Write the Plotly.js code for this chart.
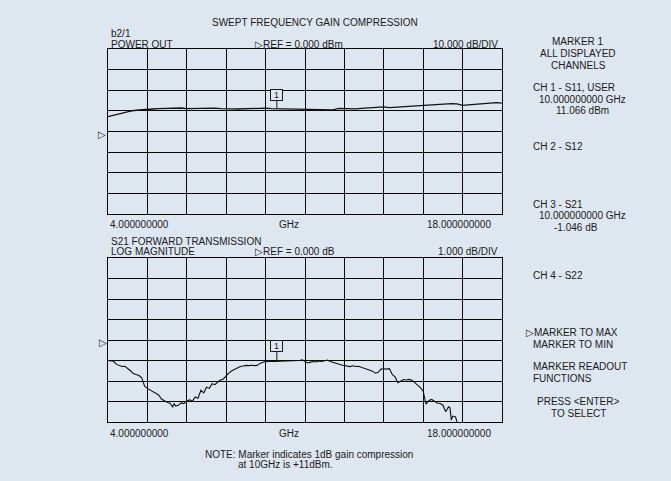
<!DOCTYPE html>
<html>
<head>
<meta charset="utf-8">
<script src="https://cdn.plot.ly/plotly-3.0.1.min.js"></script>
<style>
  html, body { margin: 0; padding: 0; background: #dee6f0; }
  #chart { width: 671px; height: 481px; }
</style>
</head>
<body>
<div id="chart"></div>
<script>
// Channel 1: power out (dBm) vs swept frequency (GHz)
const freqTop = [4.0, 4.2, 4.4, 4.6, 4.8, 5.0, 5.2, 5.4, 5.6, 5.8, 6.0, 6.2, 6.4, 6.6, 6.8, 7.0,
  7.2, 7.4, 7.6, 7.8, 8.0, 8.2, 8.4, 8.6, 8.8, 9.0, 9.2, 9.4, 9.6, 9.8, 10.0, 10.2, 10.4, 10.6,
  10.8, 11.0, 11.2, 11.4, 11.6, 11.8, 12.0, 12.2, 12.4, 12.6, 12.8, 13.0, 13.2, 13.4, 13.6, 13.8,
  14.0, 14.2, 14.4, 14.6, 14.8, 15.0, 15.2, 15.4, 15.6, 15.8, 16.0, 16.2, 16.4, 16.6, 16.8, 17.0,
  17.2, 17.4, 17.6, 17.8, 18.0];
const powerOutDbm = [7.2, 7.9, 8.6, 9.3, 9.9, 10.3, 10.4, 10.5, 10.9, 11.1, 11.2, 11.3, 11.5, 11.4,
  11.1, 11.2, 11.2, 11.3, 11.2, 11.3, 11.1, 11.2, 11.0, 10.9, 11.0, 11.2, 11.0, 11.1, 11.3, 11.1,
  11.066, 10.9, 11.0, 10.9, 10.9, 10.8, 10.8, 10.8, 10.7, 10.6, 10.5, 11.2, 11.1, 10.9, 11.0, 11.2,
  11.4, 11.4, 11.6, 11.9, 11.6, 11.8, 11.7, 12.1, 12.3, 12.4, 12.5, 12.8, 12.9, 13.1, 13.3, 13.5,
  13.4, 12.7, 12.9, 13.1, 13.3, 13.5, 13.7, 14.0, 13.8];

// Channel 3: S21 forward transmission, log magnitude (dB)
const freqBottom = [4.0, 4.1, 4.2, 4.3, 4.4, 4.5, 4.6, 4.7, 4.8, 4.9, 5.0, 5.1, 5.2, 5.3, 5.4, 5.5,
  5.6, 5.7, 5.8, 5.9, 6.0, 6.1, 6.2, 6.3, 6.35, 6.4, 6.5, 6.6, 6.7, 6.8, 6.9, 7.0, 7.1, 7.2, 7.3,
  7.4, 7.5, 7.6, 7.7, 7.8, 7.9, 8.0, 8.1, 8.2, 8.3, 8.4, 8.5, 8.6, 8.7, 8.8, 8.9, 9.0, 9.1, 9.2,
  9.3, 9.4, 9.5, 9.6, 9.7, 9.8, 9.9, 10.0, 10.1, 10.2, 10.3, 10.4, 10.5, 10.6, 10.7, 10.8, 10.9,
  11.0, 11.1, 11.2, 11.3, 11.4, 11.5, 11.6, 11.7, 11.8, 11.9, 12.0, 12.1, 12.2, 12.3, 12.4, 12.5,
  12.6, 12.7, 12.8, 12.9, 13.0, 13.1, 13.2, 13.3, 13.4, 13.5, 13.6, 13.7, 13.8, 13.9, 14.0, 14.1,
  14.2, 14.3, 14.4, 14.5, 14.6, 14.7, 14.8, 14.9, 15.0, 15.1, 15.2, 15.3, 15.4, 15.5, 15.6, 15.7,
  15.8, 15.9, 16.0, 16.1, 16.15, 16.2, 16.25, 16.3, 16.35, 16.4];
const s21Db = [-1.00, -1.01, -1.04, -1.19, -1.26, -1.29, -1.28, -1.38, -1.50, -1.64, -1.68, -1.73,
  -1.85, -2.25, -2.36, -2.45, -2.52, -2.60, -2.68, -2.88, -2.98, -3.04, -3.08, -3.26, -3.10, -3.22,
  -3.18, -3.07, -3.10, -2.97, -2.92, -2.98, -2.78, -2.84, -2.45, -2.58, -2.30, -2.36, -2.13, -2.18,
  -2.05, -1.95, -1.90, -1.74, -1.60, -1.50, -1.43, -1.36, -1.29, -1.27, -1.24, -1.25, -1.23, -1.25,
  -1.24, -1.14, -1.08, -1.04, -1.06, -1.03, -1.05, -1.046, -1.03, -1.02, -1.04, -1.01, -1.00, -1.02,
  -0.99, -1.00, -0.97, -1.05, -1.12, -1.08, -1.05, -1.07, -1.02, -1.05, -1.00, -0.98, -1.05, -1.10,
  -1.12, -1.18, -1.22, -1.24, -1.27, -1.30, -1.26, -1.29, -1.28, -1.33, -1.40, -1.42, -1.48, -1.52,
  -1.62, -1.58, -1.42, -1.40, -1.42, -1.40, -1.68, -1.80, -2.08, -2.02, -1.93, -1.95, -1.92, -1.96,
  -2.10, -2.20, -2.32, -2.50, -3.13, -2.95, -2.90, -3.00, -3.07, -3.10, -3.18, -3.50, -3.26, -3.30,
  -3.91, -3.71, -3.73, -3.75, -4.00];

// Marker 1 readout
const markerFreqGHz = 10.0;
const markerPowerDbm = 11.066;
const markerS21Db = -1.046;

const bg = '#dee6f0';
const ink = '#1a1a1a';
const gridInk = '#080808';
const font = { family: 'Liberation Sans, Arial, Helvetica, sans-serif', size: 10, color: ink };

// Plot area in page pixels
const W = 671, H = 481;
const L = 108, R = 502, T = 49, B = 422;

// Page pixel -> paper coordinates
function px(x) { return (x - L) / (R - L); }
function py(y) { return (B - y) / (B - T); }

function label(text, x, y, xanchor) {
  return { text: text, xref: 'paper', yref: 'paper', x: px(x), y: py(y),
    xanchor: xanchor || 'left', yanchor: 'middle', showarrow: false, font: font };
}

const xAxisBase = {
  range: [4, 18], tick0: 4, dtick: 1.4, showgrid: true, gridcolor: gridInk, gridwidth: 1,
  showline: true, linecolor: gridInk, linewidth: 1.2, mirror: true,
  showticklabels: false, ticks: '', zeroline: false, fixedrange: true
};

const yAxisBase = {
  showgrid: true, gridcolor: gridInk, gridwidth: 1, showline: true, linecolor: gridInk,
  linewidth: 1.2, mirror: true, showticklabels: false, ticks: '', zeroline: false, fixedrange: true
};

const topDomain = [py(214), 1];
const botDomain = [0, py(258)];

const traces = [
  { x: freqTop, y: powerOutDbm, xaxis: 'x', yaxis: 'y', mode: 'lines',
    line: { color: '#111', width: 1.3 }, hoverinfo: 'skip' },
  { x: freqBottom, y: s21Db, xaxis: 'x2', yaxis: 'y2', mode: 'lines',
    line: { color: '#111', width: 1.1 }, hoverinfo: 'skip' }
];

const markerStyle = {
  text: '1', showarrow: true, arrowhead: 0, arrowwidth: 1, arrowcolor: ink,
  ax: 0, bordercolor: ink, borderwidth: 1, borderpad: 0, bgcolor: bg,
  width: 11, height: 10, align: 'center', valign: 'middle',
  font: { family: font.family, size: 9, color: ink }
};

const annotations = [
  label('SWEPT FREQUENCY GAIN COMPRESSION', 315, 22.5, 'center'),
  label('b2/1', 109, 34),
  label('POWER OUT', 109, 44),
  label('\u25B7REF = 0.000 dBm', 253, 44),
  label('10.000 dB/DIV', 500, 44, 'right'),
  label('4.000000000', 108, 224),
  label('GHz', 289, 224, 'center'),
  label('18.000000000', 493, 224, 'right'),
  label('S21 FORWARD TRANSMISSION', 109, 241.5),
  label('LOG MAGNITUDE', 109, 252),
  label('\u25B7REF = 0.000 dB', 253, 252),
  label('1.000 dB/DIV', 500, 252, 'right'),
  label('4.000000000', 108, 433),
  label('GHz', 289, 433, 'center'),
  label('18.000000000', 493, 433, 'right'),
  label('\u25B7', 102, 134, 'center'),
  label('\u25B7', 103, 342, 'center'),
  label('NOTE: Marker indicates 1dB gain compression', 203, 454),
  label('at 10GHz is +11dBm.', 236, 464.5),
  // Marker readout panel
  label('MARKER 1', 578, 42, 'center'),
  label('ALL DISPLAYED', 578, 53.5, 'center'),
  label('CHANNELS', 578, 65, 'center'),
  label('CH 1 - S11, USER', 531, 88),
  label(markerFreqGHz.toFixed(9) + ' GHz', 537, 99.5),
  label(markerPowerDbm.toFixed(3) + ' dBm', 554, 110.5),
  label('CH 2 - S12', 531, 146.5),
  label('CH 3 - S21', 531, 204),
  label(markerFreqGHz.toFixed(9) + ' GHz', 537, 215.5),
  label(markerS21Db.toFixed(3) + ' dB', 552, 227),
  label('CH 4 - S22', 531, 275),
  label('\u25B7MARKER TO MAX', 524, 332),
  label('MARKER TO MIN', 531, 344),
  label('MARKER READOUT', 531, 366.5),
  label('FUNCTIONS', 531, 378),
  label('PRESS &lt;ENTER&gt;', 578, 401.5, 'center'),
  label('TO SELECT', 578, 413, 'center'),
  // Marker flags on the traces
  Object.assign({ x: markerFreqGHz, y: markerPowerDbm, xref: 'x', yref: 'y', ay: -14 }, markerStyle),
  Object.assign({ x: markerFreqGHz, y: markerS21Db, xref: 'x2', yref: 'y2', ay: -15 }, markerStyle)
];

const layout = {
  width: W, height: H,
  margin: { l: L, r: W - R, t: T, b: H - B, pad: 0 },
  paper_bgcolor: bg, plot_bgcolor: bg,
  showlegend: false,
  font: font,
  xaxis: Object.assign({ anchor: 'y', domain: [0, 1] }, xAxisBase),
  xaxis2: Object.assign({ anchor: 'y2', domain: [0, 1] }, xAxisBase),
  yaxis: Object.assign({ domain: topDomain, anchor: 'x', range: [-40, 40], tick0: -40, dtick: 10 }, yAxisBase),
  yaxis2: Object.assign({ domain: botDomain, anchor: 'x2', range: [-4, 4], tick0: -4, dtick: 1 }, yAxisBase),
  annotations: annotations
};

Plotly.newPlot('chart', traces, layout, { displayModeBar: false, staticPlot: true });
</script>
</body>
</html>
